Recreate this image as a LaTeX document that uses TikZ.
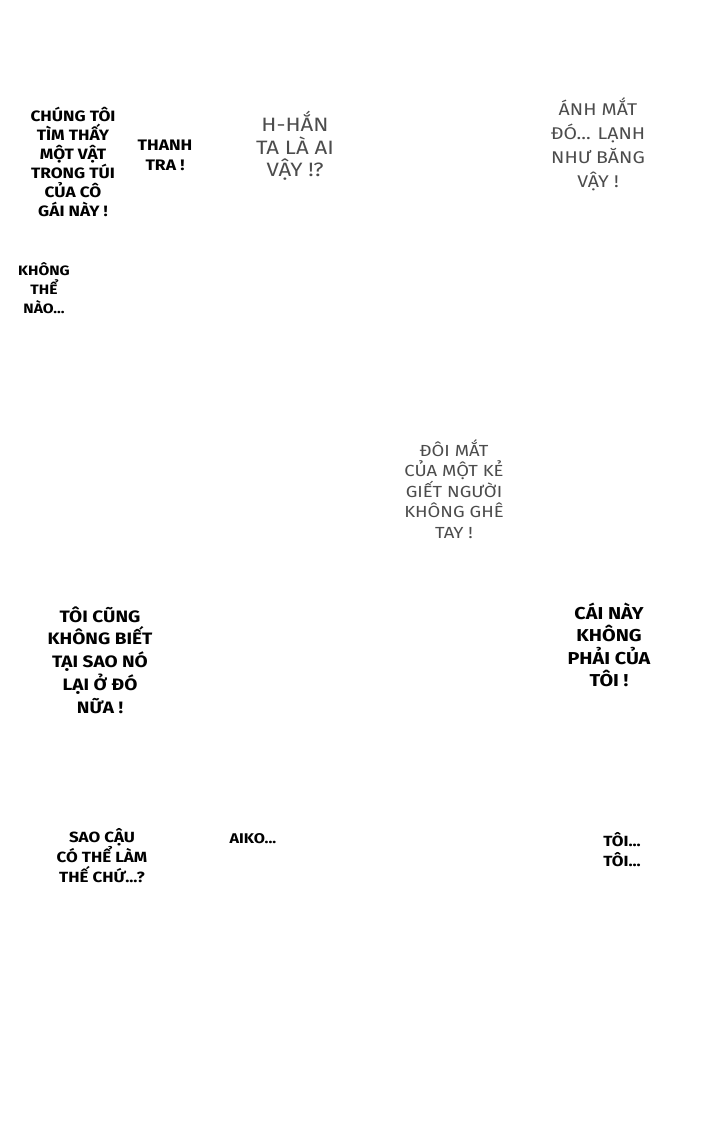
\documentclass[tikz,border=0pt]{standalone}
\usepackage{fontspec}
\setmainfont[FakeStretch=1.15]{Fira Sans}
\usepackage{tikz}

\tikzset{
  loud/.style={align=center, inner sep=0pt, font=\fontsize{12.8}{16.2}\selectfont\bfseries},
  louder/.style={align=center, inner sep=0pt, font=\fontsize{14.1}{19.5}\selectfont\bfseries},
  quiet/.style={align=center, inner sep=0pt, text=black!70, font=\fontsize{16.5}{19.2}\selectfont},
}

\begin{document}
\begin{tikzpicture}
  [x=0.03cm, y=-0.03cm]
  \useasboundingbox[fill=white] (0,0) rectangle (728,1144);
  \node[loud] (found) at (73, 162) {CHÚNG TÔI\\TÌM THẤY\\MỘT VẬT\\TRONG TÚI\\CỦA CÔ\\GÁI NÀY !};
  \node[loud, font=\fontsize{13}{17}\selectfont\bfseries] (inspector) at (165, 155) {THANH\\TRA !};
  \node[quiet] (who) at (295, 146) {H-HẮN\\TA LÀ AI\\VẬY !?};
  \node[quiet, font=\fontsize{14.5}{20.4}\selectfont] (cold) at (598, 144) {ÁNH MẮT\\ĐÓ... LẠNH\\NHƯ BĂNG\\VẬY !};
  \node[loud, font=\fontsize{11.6}{16.2}\selectfont\bfseries] (nope) at (44, 288) {KHÔNG\\THỂ\\NÀO...};
  \node[quiet, font=\fontsize{13.7}{17.4}\selectfont] (killer) at (454, 489) {ĐÔI MẮT\\CỦA MỘT KẺ\\GIẾT NGƯỜI\\KHÔNG GHÊ\\TAY !};
  \node[louder] (dunno) at (100, 660) {TÔI CŨNG\\KHÔNG BIẾT\\TẠI SAO NÓ\\LẠI Ở ĐÓ\\NỮA !};
  \node[louder, font=\fontsize{14.7}{19}\selectfont\bfseries] (notmine) at (609, 645) {CÁI NÀY\\KHÔNG\\PHẢI CỦA\\TÔI !};
  \node[loud, font=\fontsize{12.6}{17}\selectfont\bfseries] (how) at (102, 856) {SAO CẬU\\CÓ THỂ LÀM\\THẾ CHỨ...?};
  \node[loud, font=\fontsize{12}{17}\selectfont\bfseries] (aiko) at (253, 839) {AIKO...};
  \node[loud, font=\fontsize{12.6}{17}\selectfont\bfseries] (me) at (622, 850) {TÔI...\\TÔI...};
\end{tikzpicture}
\end{document}
